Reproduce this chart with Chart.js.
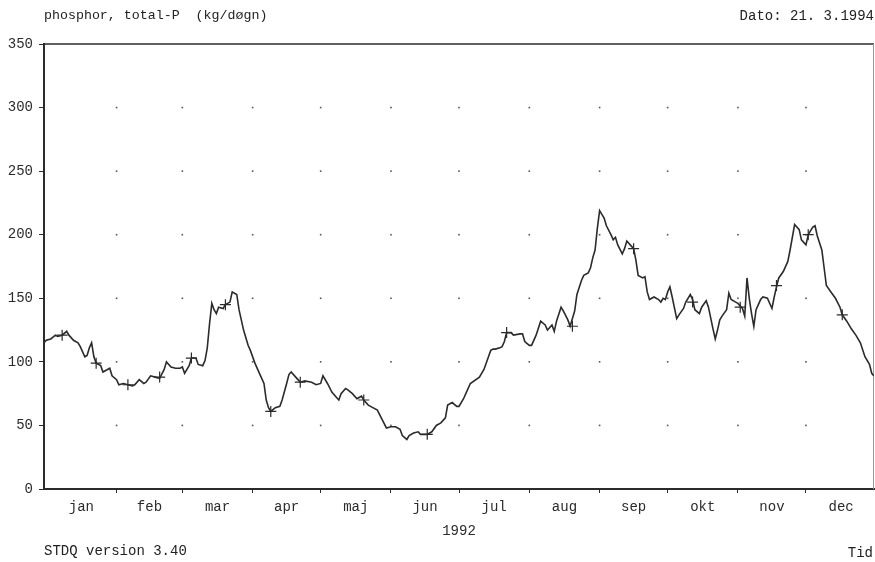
<!DOCTYPE html>
<html>
<head>
<meta charset="utf-8">
<script src="https://cdn.jsdelivr.net/npm/chart.js@4/dist/chart.umd.min.js"></script>
<style>
  html, body { margin: 0; padding: 0; background: #fff; }
  #wrap { position: relative; width: 875px; height: 562px; overflow: hidden; }
  canvas { position: absolute; left: 0; top: 0; }
  .lbl { position: absolute; font-family: "Liberation Mono", "DejaVu Sans Mono", monospace;
         font-size: 14px; line-height: 14px; color: #222; white-space: pre; }
</style>
</head>
<body>
<div id="wrap">
  <canvas id="c" width="875" height="562"></canvas>
  <div class="lbl" style="left:44px;top:9px;font-size:13.3px">phosphor, total-P  (kg/døgn)</div>
  <div class="lbl" style="right:1px;top:9px">Dato: 21. 3.1994</div>
  <div class="lbl" style="left:44px;top:544px">STDQ version 3.40</div>
  <div class="lbl" style="right:2px;top:546px">Tid</div>
</div>
<script>
// Daily total-P load, 1992 (day of year, kg/døgn)
const dayOfYear = [
  0, 1, 3, 5, 6, 8, 10, 11, 13, 15, 16, 18, 19, 20, 21, 22, 23, 25, 26, 28, 29, 30,
  32, 33, 35, 37, 39, 40, 42, 44, 45, 47, 49, 51, 53, 54, 56, 58, 60,
  61, 62, 64, 65, 67, 68, 70, 71, 72, 73, 74, 75, 76, 77, 79, 80, 82, 83, 85, 86, 88, 90,
  91, 93, 95, 97, 98, 99, 100, 102, 104, 105, 107, 108, 109, 111, 112, 113, 115, 118, 120,
  122, 123, 125, 127, 129, 130, 131, 133, 134, 136, 138, 140, 141, 143, 145, 147, 149, 151,
  153, 155, 157, 158, 160, 161, 163, 165, 166, 168, 169, 171, 173, 175, 177, 178, 180, 182,
  183, 185, 186, 188, 192, 194, 196, 197, 198, 199, 201, 202, 203, 204, 206, 207, 210, 211, 212,
  214, 215, 217, 219, 221, 222, 224, 225, 226, 228, 229, 231, 232, 234, 235, 237, 238, 240, 241, 242, 243,
  244, 245, 246, 247, 248, 250, 251, 252, 253, 255, 256, 257, 259, 260, 261, 262, 264, 265, 266, 267, 269, 271, 272, 273, 274,
  275, 276, 277, 279, 280, 282, 283, 285, 286, 287, 289, 290, 292, 293, 295, 296, 297, 298, 299, 301, 302, 303, 305,
  306, 308, 309, 310, 311, 312, 313, 314, 316, 317, 319, 321, 322, 323, 324, 326, 328, 329, 331, 333, 334,
  336, 337, 339, 340, 341, 343, 344, 345, 347, 349, 351, 352, 354, 356, 358, 360, 362, 364, 365, 366
];
const loadKgPerDay = [
  115, 117, 118, 121, 120, 121, 124, 121, 117, 115, 112, 104, 105, 111, 115, 104, 99, 97, 92, 94, 95, 89,
  86, 82, 83, 82, 81, 82, 86, 83, 84, 89, 88, 87, 94, 100, 96, 95, 95,
  96, 91, 97, 103, 103, 98, 97, 101, 111, 130, 146, 141, 138, 143, 142, 145, 147, 155, 153, 141, 125, 113,
  109, 99, 91, 83, 70, 64, 61, 64, 65, 70, 83, 90, 92, 88, 86, 84, 85, 84, 82,
  83, 89, 83, 76, 72, 70, 75, 79, 78, 75, 71, 73, 70, 66, 64, 62, 55, 48,
  49, 49, 47, 42, 39, 42, 44, 45, 43, 43, 43, 45, 50, 52, 56, 66, 68, 65,
  65, 71, 75, 83, 88, 94, 104, 109, 110, 110, 111, 112, 116, 123, 123, 121, 122, 122, 116,
  113, 113, 121, 132, 129, 125, 129, 124, 132, 143, 140, 133, 128, 140, 153, 164, 168, 170, 174, 182, 188,
  205, 219, 216, 213, 207, 200, 196, 198, 192, 185, 189, 195, 191, 189, 180, 168, 166, 167, 155, 149, 151, 149, 147, 150, 149,
  155, 159, 151, 134, 137, 142, 147, 153, 149, 141, 138, 143, 148, 143, 126, 118, 125, 133, 136, 141, 154, 149, 147,
  146, 142, 136, 166, 150, 138, 128, 141, 149, 151, 150, 142, 151, 159, 166, 171, 179, 188, 208, 204, 196,
  192, 200, 206, 207, 199, 188, 174, 160, 155, 150, 143, 137, 132, 126, 121, 115, 104, 98, 91, 89
];

// Measured samples (marked with +)
const sampleDay = [8, 23, 37, 51, 65, 80, 100, 113, 141, 169, 204, 233, 260, 286, 307, 323, 337, 352];
const sampleValue = [121, 99, 82, 88, 103, 145, 61, 84, 70, 43, 123, 128, 189, 147, 143, 160, 200, 137];

// Calendar axis (1992 is a leap year; day numbers of each month's 1st, plus year end)
const monthStart = [1, 32, 61, 92, 122, 153, 183, 214, 245, 275, 306, 336, 367];
const monthNames = ['jan', 'feb', 'mar', 'apr', 'maj', 'jun', 'jul', 'aug', 'sep', 'okt', 'nov', 'dec'];
const yTickValues = [0, 50, 100, 150, 200, 250, 300, 350];

const FONT = { family: '"Liberation Mono", "DejaVu Sans Mono", monospace', size: 14 };
const INK = '#2b2b2b';

const boundaryDays = monthStart.slice(1, -1);
const midDays = monthNames.map((_, i) => (monthStart[i] + monthStart[i + 1]) / 2);
const isBoundary = v => boundaryDays.includes(v);

// dotted grid at month boundaries and y ticks, plus frame top/right
const framePlugin = {
  id: 'frame',
  beforeDatasetsDraw(chart) {
    const { ctx, chartArea: a, scales: { x, y } } = chart;
    ctx.save();
    ctx.fillStyle = '#555';
    boundaryDays.forEach(d => {
      const px = x.getPixelForValue(d);
      yTickValues.slice(1, -1).forEach(v => {
        const py = y.getPixelForValue(v);
        ctx.fillRect(px - 0.8, py - 0.8, 1.6, 1.6);
      });
    });
    ctx.strokeStyle = INK;
    ctx.lineWidth = 1.5;
    ctx.beginPath();
    ctx.moveTo(a.left, a.top);
    ctx.lineTo(a.right, a.top);
    ctx.stroke();
    ctx.strokeStyle = '#999';
    ctx.lineWidth = 1;
    ctx.beginPath();
    ctx.moveTo(a.right - 0.5, a.top);
    ctx.lineTo(a.right - 0.5, a.bottom);
    ctx.stroke();
    ctx.restore();
  }
};

new Chart(document.getElementById('c'), {
  type: 'line',
  data: {
    datasets: [
      {
        data: dayOfYear.map((d, i) => ({ x: d, y: loadKgPerDay[i] })),
        borderColor: INK,
        borderWidth: 1.6,
        pointRadius: 0,
        tension: 0,
        fill: false
      },
      {
        data: sampleDay.map((d, i) => ({ x: d, y: sampleValue[i] })),
        showLine: false,
        pointStyle: 'cross',
        pointRadius: 5.5,
        pointBorderWidth: 1.2,
        borderColor: INK,
        pointBorderColor: INK
      }
    ]
  },
  options: {
    responsive: false,
    devicePixelRatio: 1,
    animation: false,
    events: [],
    layout: { autoPadding: false, padding: { left: 8, right: 1, top: 44, bottom: 20.5 } },
    plugins: { legend: { display: false }, tooltip: { enabled: false }, title: { display: false } },
    scales: {
      x: {
        type: 'linear',
        min: 0,
        max: 366,
        afterBuildTicks: scale => {
          scale.ticks = boundaryDays.concat(midDays).sort((a, b) => a - b).map(v => ({ value: v }));
        },
        afterFit: scale => {
          scale.height = 52.5;
          scale.paddingLeft = 0;
          scale.paddingRight = 0;
        },
        ticks: {
          autoSkip: false,
          maxRotation: 0,
          padding: 5.6,
          font: FONT,
          color: INK,
          callback: value => {
            const i = midDays.indexOf(value);
            return i >= 0 ? monthNames[i] : '';
          }
        },
        grid: {
          drawOnChartArea: false,
          drawTicks: true,
          tickLength: 4,
          tickColor: ctx => (ctx.tick && isBoundary(ctx.tick.value)) ? INK : 'rgba(0,0,0,0)',
          color: 'rgba(0,0,0,0)'
        },
        border: { display: true, color: INK, width: 2 },
        title: { display: true, text: '1992', font: FONT, color: INK, padding: { top: 0, bottom: 2 } }
      },
      y: {
        type: 'linear',
        min: 0,
        max: 350,
        afterBuildTicks: scale => { scale.ticks = yTickValues.map(v => ({ value: v })); },
        afterFit: scale => {
          scale.width = 36;
          scale.paddingTop = 0;
          scale.paddingBottom = 0;
        },
        ticks: { padding: 6, font: FONT, color: INK },
        grid: { drawOnChartArea: false, drawTicks: true, tickLength: 5, tickColor: INK, color: 'rgba(0,0,0,0)' },
        border: { display: true, color: INK, width: 2 }
      }
    }
  },
  plugins: [framePlugin]
});
</script>
</body>
</html>
